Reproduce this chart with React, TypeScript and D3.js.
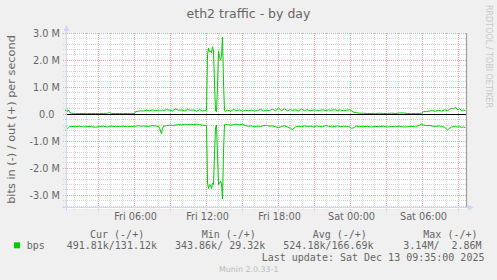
import React, { useEffect } from "react";
import * as d3 from "d3";

// time of each sample, minutes since Fri 00:00
const minutes = [
  15, 20, 25, 30, 35, 45, 65, 85, 105, 125, 145, 165, 185, 205, 225, 235, 245, 265, 285, 305, 325, 345, 360,
  365, 375, 390, 405, 420, 435, 450, 465, 480, 485, 490, 495, 500, 505, 520, 535, 550, 565, 580, 595, 610,
  625, 640, 655, 670, 685, 700, 715, 720, 725, 730, 735, 740, 745, 750, 755, 760, 765, 770, 775, 780, 785,
  790, 795, 800, 805, 810, 815, 825, 840, 855, 870, 885, 900, 915, 930, 945, 960, 975, 990, 1005, 1020,
  1035, 1050, 1065, 1080, 1095, 1110, 1125, 1140, 1150, 1165, 1180, 1195, 1210, 1225, 1240, 1255, 1270,
  1285, 1300, 1315, 1330, 1345, 1360, 1375, 1390, 1405, 1420, 1435, 1445, 1455, 1470, 1485, 1505, 1525,
  1545, 1565, 1585, 1605, 1625, 1645, 1665, 1685, 1705, 1725, 1745, 1765, 1785, 1795, 1805, 1820, 1835,
  1850, 1865, 1880, 1895, 1910, 1925, 1935, 1945, 1955, 1965, 1975, 1985, 1995, 2005, 2015,
];

// out (+) in Mbit/s
const outMbps = [
  0.12, 0.2, 0.1, 0.16, 0.08, 0.04, 0.03, 0.03, 0.03, 0.03, 0.03, 0.03, 0.03, 0.03, 0.04, 0.06, 0.03, 0.03, 0.03, 0.03, 0.03, 0.03, 0.03,
  0.1, 0.11, 0.13, 0.12, 0.15, 0.13, 0.16, 0.14, 0.15, 0.13, 0.15, 0.14, 0.16, 0.14, 0.17, 0.15, 0.13, 0.2, 0.15, 0.16, 0.13,
  0.18, 0.15, 0.16, 0.11, 0.17, 0.12, 0.15, 0.14, 2.2, 2.45, 2.3, 2.35, 2.28, 2.5, 2.35, 1.2, 0.12, 0.1, 1.0, 2.35, 2.1,
  2.0, 2.15, 2.86, 1.2, 0.14, 0.12, 0.15, 0.12, 0.17, 0.14, 0.16, 0.12, 0.15, 0.13, 0.16, 0.12, 0.14, 0.18, 0.13, 0.15,
  0.14, 0.19, 0.13, 0.22, 0.14, 0.2, 0.13, 0.18, 0.14, 0.17, 0.13, 0.19, 0.14, 0.17, 0.13, 0.16, 0.15,
  0.14, 0.17, 0.14, 0.16, 0.15, 0.17, 0.14, 0.16, 0.13, 0.15, 0.17, 0.13, 0.08, 0.06, 0.04, 0.04, 0.03,
  0.03, 0.03, 0.04, 0.03, 0.03, 0.04, 0.03, 0.05, 0.05, 0.03, 0.03, 0.03, 0.03, 0.04, 0.1, 0.1, 0.12,
  0.14, 0.11, 0.15, 0.12, 0.16, 0.14, 0.18, 0.22, 0.2, 0.26, 0.17, 0.2, 0.14, 0.16, 0.13,
];

// in (-) in Mbit/s, drawn below zero
const inMbps = [
  0.58, 0.55, 0.52, 0.49, 0.46, 0.45, 0.46, 0.44, 0.47, 0.45, 0.46, 0.48, 0.45, 0.44, 0.47, 0.45, 0.44, 0.46, 0.45, 0.44, 0.46, 0.45, 0.44,
  0.45, 0.42, 0.44, 0.43, 0.45, 0.44, 0.42, 0.43, 0.45, 0.5, 0.62, 0.72, 0.52, 0.44, 0.42, 0.4, 0.41, 0.4, 0.38, 0.39, 0.37,
  0.38, 0.37, 0.38, 0.37, 0.38, 0.4, 0.41, 0.42, 2.55, 2.75, 2.6, 2.62, 2.75, 2.55, 2.6, 1.5, 0.5, 0.4, 1.5, 2.6, 2.55,
  2.48, 2.58, 3.14, 1.4, 0.38, 0.37, 0.38, 0.4, 0.38, 0.37, 0.39, 0.37, 0.42, 0.44, 0.43, 0.46, 0.44, 0.45, 0.42, 0.41,
  0.44, 0.43, 0.46, 0.5, 0.45, 0.43, 0.47, 0.52, 0.56, 0.47, 0.44, 0.46, 0.43, 0.45, 0.44, 0.47, 0.43,
  0.45, 0.46, 0.42, 0.44, 0.47, 0.45, 0.43, 0.46, 0.44, 0.45, 0.47, 0.52, 0.5, 0.44, 0.45, 0.46, 0.45,
  0.47, 0.45, 0.46, 0.44, 0.47, 0.45, 0.46, 0.44, 0.47, 0.46, 0.45, 0.46, 0.4, 0.37, 0.4, 0.42, 0.41,
  0.44, 0.45, 0.43, 0.45, 0.48, 0.58, 0.52, 0.47, 0.46, 0.45, 0.47, 0.46, 0.48, 0.47, 0.49,
];

const yMajorValues = [-3, -2, -1, 0, 1, 2, 3];
const yTickLabels = ["-3.0 M", "-2.0 M", "-1.0 M", "0.0", "1.0 M", "2.0 M", "3.0 M"];
const xLabelMinutes = [360, 720, 1080, 1440, 1800];
const xTickLabels = ["Fri 06:00", "Fri 12:00", "Fri 18:00", "Sat 00:00", "Sat 06:00"];

const legendHeaders = ["Cur (-/+)", "Min (-/+)", "Avg (-/+)", "Max (-/+)"];
const legendValues = ["491.81k/131.12k", "343.86k/ 29.32k", "524.18k/166.69k", "3.14M/  2.86M"];
const seriesName = "bps";
const titleText = "eth2 traffic - by day";
const yAxisTitle = "bits in (-) / out (+) per second";
const lastUpdate = "Last update: Sat Dec 13 09:35:00 2025";
const versionText = "Munin 2.0.33-1";
const watermark = "RRDTOOL / TOBI OETIKER";

const W = 497;
const H = 280;
const GREEN = "#00CC00";
const AXIS = "#CFD6F8";
const MGRID = "#F4A3A3";
const GRID = "#D4D4D4";
const FONT = "#666666";

export default function App() {
  useEffect(() => {
    document.body.style.margin = "0";
  }, []);

  const x = d3.scaleLinear().domain([15, 2015]).range([65.5, 465.5]);
  const y = d3.scaleLinear().domain([-3.5, 3]).range([208.8, 33.3]);
  const cx = (v: number) => Math.floor(x(v)) + 0.5;
  const cy = (v: number) => Math.floor(y(v)) + 0.5;

  const minorY = d3.range(-34, 31, 2).map((d) => d / 10).filter((d) => Math.abs(d - Math.round(d)) > 1e-6);
  const minorX = d3.range(60, 2015, 60).filter((m) => m % 180 !== 0);
  const majorX = d3.range(180, 2015, 180);

  const outLine = d3
    .line<number>()
    .x((_, i) => x(minutes[i]))
    .y((d) => y(d));
  const inLine = d3
    .line<number>()
    .x((_, i) => x(minutes[i]))
    .y((d) => y(-d));

  const left = 66;
  const right = 466;
  const top = 33;
  const bottom = 208.8;
  const legendX = [90, 201.7, 312.7, 423.3];
  const valueX = [66.7, 175, 283.3, 403.3];

  return (
    <svg
      width={W}
      height={H}
      style={{ position: "absolute", left: 0, top: 0, display: "block" }}
      fontFamily="DejaVu Sans"
    >
      <rect width={W} height={H} fill="#F0F0F0" />
      <rect x={left} y={top} width={right - left} height={bottom - top} fill="#FFFFFF" />

      {/* minor grid */}
      {minorY.map((v) => (
        <line key={"my" + v} x1={left - 3} x2={right} y1={cy(v)} y2={cy(v)} stroke={GRID} strokeDasharray="1,1" />
      ))}
      {minorX.map((m) => (
        <line key={"mx" + m} x1={cx(m)} x2={cx(m)} y1={top} y2={bottom + 2} stroke={GRID} strokeDasharray="1,1" />
      ))}
      {/* major grid */}
      {yMajorValues.map((v) => (
        <line key={"My" + v} x1={left - 3} x2={right} y1={cy(v)} y2={cy(v)} stroke={MGRID} strokeDasharray="1,1" />
      ))}
      {majorX.map((m) => (
        <line key={"Mx" + m} x1={cx(m)} x2={cx(m)} y1={top} y2={bottom + 2.5} stroke={MGRID} strokeDasharray="1,1" />
      ))}

      {/* data */}
      <path d={outLine(outMbps) || ""} fill="none" stroke={GREEN} strokeWidth={1} />
      <path d={inLine(inMbps) || ""} fill="none" stroke={GREEN} strokeWidth={1} />

      {/* zero rule */}
      <line x1={left} x2={right} y1={cy(0)} y2={cy(0)} stroke="#000000" strokeWidth={1} />

      {/* right edge */}
      <line x1={right + 0.5} x2={right + 0.5} y1={top} y2={bottom - 1.5} stroke="#A0A0A0" strokeWidth={1.2} />

      {/* axes */}
      <line x1={66.5} x2={66.5} y1={bottom + 2} y2={29} stroke={AXIS} />
      <path d="M63.5,31 L66.5,25 L69.5,31 Z" fill={AXIS} />
      <line x1={62} x2={470} y1={Math.floor(bottom) - 0.5} y2={Math.floor(bottom) - 0.5} stroke={AXIS} />
      <path d={`M468,${Math.floor(bottom) - 3.5} L474,${Math.floor(bottom) - 0.5} L468,${Math.floor(bottom) + 2.5} Z`} fill={AXIS} />

      {/* y tick labels */}
      {yMajorValues.map((v, i) => (
        <text
          key={"yl" + v}
          x={yTickLabels[i].endsWith("M") ? 60 : 54.5}
          y={y(v) + 3.4}
          fontSize={9.72}
          fill={FONT}
          textAnchor="end"
        >
          {yTickLabels[i]}
        </text>
      ))}

      {/* x tick labels */}
      {xLabelMinutes.map((m, i) => (
        <text key={"xl" + m} x={x(m) + 1} y={220} fontSize={9.72} fill={FONT} textAnchor="middle">
          {xTickLabels[i]}
        </text>
      ))}

      {/* title */}
      <text x={248.5} y={18.3} fontSize={12.5} fill={FONT} textAnchor="middle">
        {titleText}
      </text>

      {/* y axis title */}
      <text
        transform="translate(15,119.5) rotate(-90)"
        fontSize={11.3}
        fill={FONT}
        textAnchor="middle"
      >
        {yAxisTitle}
      </text>

      {/* watermark */}
      <text transform="translate(485.5,5) rotate(90)" fontSize={8} fill="#C8C8C8">
        {watermark}
      </text>

      {/* legend */}
      <g fontFamily="DejaVu Sans Mono" fontSize={10} fill={FONT} style={{ whiteSpace: "pre" }}>
        {legendHeaders.map((h, i) => (
          <text key={"lh" + i} x={legendX[i]} y={237.5} xmlSpace="preserve">
            {h}
          </text>
        ))}
        <rect x={14} y={242.3} width={6} height={6} fill={GREEN} />
        <text x={26.7} y={249} xmlSpace="preserve">
          {seriesName}
        </text>
        {legendValues.map((v, i) => (
          <text key={"lv" + i} x={valueX[i]} y={249} xmlSpace="preserve">
            {v}
          </text>
        ))}
        <text x={261.7} y={260.5} xmlSpace="preserve">
          {lastUpdate}
        </text>
      </g>
      <text x={219} y={272} fontSize={7.9} fill="#BBBBBB">
        {versionText}
      </text>
    </svg>
  );
}
